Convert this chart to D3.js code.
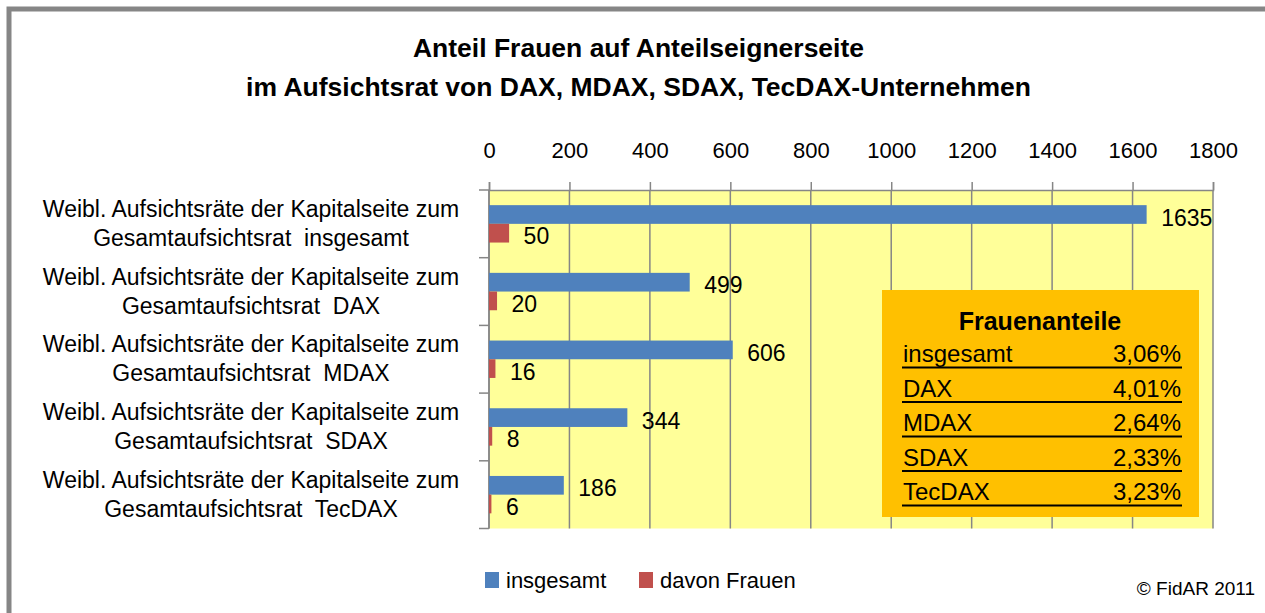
<!DOCTYPE html>
<html><head><meta charset="utf-8">
<script src="https://cdn.jsdelivr.net/npm/d3@7"></script>
<style>
html,body{margin:0;padding:0;background:#fff;overflow:hidden;}
text{font-family:"Liberation Sans",Arial,sans-serif;fill:#000;}
</style></head>
<body>
<svg id="chart" width="1265" height="613"></svg>
<script>
const titleLines = ["Anteil Frauen auf Anteilseignerseite", "im Aufsichtsrat von DAX, MDAX, SDAX, TecDAX-Unternehmen"];
const categories = ["insgesamt", "DAX", "MDAX", "SDAX", "TecDAX"];
const labelLine1 = "Weibl. Aufsichtsräte der Kapitalseite zum";
const labelLine2 = ["Gesamtaufsichtsrat  insgesamt", "Gesamtaufsichtsrat  DAX", "Gesamtaufsichtsrat  MDAX", "Gesamtaufsichtsrat  SDAX", "Gesamtaufsichtsrat  TecDAX"];
const seriesNames = ["insgesamt", "davon Frauen"];
const totalValues = [1635, 499, 606, 344, 186];
const womenValues = [50, 20, 16, 8, 6];
const xTicks = [0, 200, 400, 600, 800, 1000, 1200, 1400, 1600, 1800];
const boxTitle = "Frauenanteile";
const boxLabels = ["insgesamt", "DAX", "MDAX", "SDAX", "TecDAX"];
const boxValues = ["3,06%", "4,01%", "2,64%", "2,33%", "3,23%"];
const copyright = "© FidAR 2011";

(function () {
const colors = ["#4F81BD", "#C0504D"];
const svg = d3.select("#chart");

// outer frame
svg.append("rect").attr("x", 9).attr("y", 9).attr("width", 1300).attr("height", 700)
  .attr("fill", "#fff").attr("stroke", "#868686").attr("stroke-width", 5);

// title
svg.selectAll("text.title").data(titleLines).join("text")
  .attr("class", "title").attr("x", 638.5).attr("y", (d, i) => 57 + i * 39)
  .attr("text-anchor", "middle").attr("font-weight", "bold").attr("font-size", 26.5)
  .text(d => d);

const pLeft = 489, pRight = 1213, pTop = 190, pBottom = 528.5;
const x = d3.scaleLinear().domain([0, 1800]).range([pLeft, pRight]);
const p = 0.4476;
const y = d3.scaleBand().domain(categories).range([pTop, pBottom]).paddingInner(p).paddingOuter(p / 2);
const ys = d3.scaleBand().domain([0, 1]).range([0, y.bandwidth()]);

// plot background
svg.append("rect").attr("x", pLeft).attr("y", pTop).attr("width", pRight - pLeft).attr("height", pBottom - pTop)
  .attr("fill", "#FFFF99");

// gridlines
svg.append("g").selectAll("line").data(xTicks).join("line")
  .attr("x1", d => x(d)).attr("x2", d => x(d)).attr("y1", pTop).attr("y2", pBottom)
  .attr("stroke", "#868686").attr("stroke-width", 1.5);

// top axis
const xAxis = d3.axisTop(x).tickValues(xTicks).tickSize(8).tickPadding(24).tickFormat(d3.format("d"));
const gx = svg.append("g").attr("transform", `translate(0,${pTop})`).call(xAxis);
gx.select(".domain").attr("stroke", "#868686").attr("stroke-width", 1.5);
gx.selectAll(".tick line").attr("stroke", "#868686").attr("stroke-width", 1.5);
gx.selectAll(".tick text").attr("font-size", 22).attr("font-family", '"Liberation Sans",Arial,sans-serif').attr("fill", "#000");

// left axis line and category ticks
const step = y.step();
const boundaries = d3.range(categories.length + 1).map(i => pTop + i * step);
svg.append("line").attr("x1", pLeft).attr("x2", pLeft).attr("y1", pTop).attr("y2", pBottom)
  .attr("stroke", "#868686").attr("stroke-width", 1.5);
svg.append("g").selectAll("line").data(boundaries).join("line")
  .attr("x1", pLeft - 10).attr("x2", pLeft).attr("y1", d => d).attr("y2", d => d)
  .attr("stroke", "#868686").attr("stroke-width", 1.5);

// category labels
const lab = svg.append("g").selectAll("g").data(categories).join("g")
  .attr("transform", d => `translate(251,${y(d) + y.bandwidth() / 2})`);
lab.append("text").attr("y", -7).attr("text-anchor", "middle").attr("font-size", 23)
  .attr("xml:space", "preserve").text(labelLine1);
lab.append("text").attr("y", 22).attr("text-anchor", "middle").attr("font-size", 23)
  .attr("xml:space", "preserve").text((d, i) => labelLine2[i]);

// bars
const series = [totalValues, womenValues];
series.forEach((vals, s) => {
  const g = svg.append("g");
  g.selectAll("rect").data(vals).join("rect")
    .attr("x", x(0)).attr("y", (d, i) => y(categories[i]) + ys(s))
    .attr("width", d => x(d) - x(0)).attr("height", ys.bandwidth())
    .attr("fill", colors[s]);
  g.selectAll("text").data(vals).join("text")
    .attr("x", d => x(d) + 14.5).attr("y", (d, i) => y(categories[i]) + ys(s) + ys.bandwidth() / 2 + 3)
    .attr("dominant-baseline", "central").attr("font-size", 23).text(d => d);
});

// info box
const bx = 882, by = 290, bw = 317, bh = 227;
svg.append("rect").attr("x", bx).attr("y", by).attr("width", bw).attr("height", bh).attr("fill", "#FFC000");
svg.append("text").attr("x", 1040).attr("y", 329.5).attr("text-anchor", "middle")
  .attr("font-weight", "bold").attr("font-size", 25).text(boxTitle);
const rowY = d3.scaleLinear().domain([0, 4]).range([362, 500]);
const rows = svg.append("g").selectAll("g").data(boxLabels).join("g")
  .attr("transform", (d, i) => `translate(0,${rowY(i)})`);
rows.append("text").attr("x", 903).attr("font-size", 24).text(d => d);
rows.append("text").attr("x", 1181).attr("text-anchor", "end").attr("font-size", 24).text((d, i) => boxValues[i]);
rows.append("line").attr("x1", 902).attr("x2", 1182).attr("y1", 5.5).attr("y2", 5.5)
  .attr("stroke", "#000").attr("stroke-width", 1.8);

// legend
const legendX = [485, 639];
const leg = svg.append("g").selectAll("g").data(seriesNames).join("g")
  .attr("transform", (d, i) => `translate(${legendX[i]},572)`);
leg.append("rect").attr("width", 14).attr("height", 16).attr("fill", (d, i) => colors[i]);
leg.append("text").attr("x", 21).attr("y", 16).attr("font-size", 22).text(d => d);

// copyright
svg.append("text").attr("x", 1255).attr("y", 595).attr("text-anchor", "end").attr("font-size", 19).text(copyright);
})();
</script>
</body></html>
